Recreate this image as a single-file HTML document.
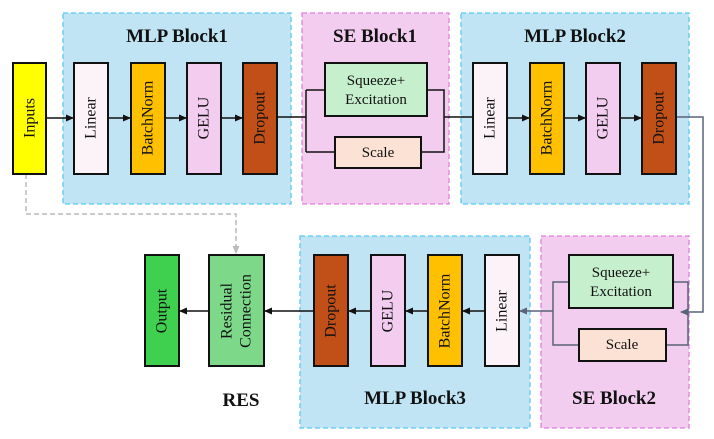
<!DOCTYPE html>
<html><head><meta charset="utf-8"><style>
html,body{margin:0;padding:0;background:#fff;}
svg{display:block;}
text{font-family:"Liberation Serif",serif;fill:#111;}
.t{font-size:19px;font-weight:bold;text-anchor:middle;}
.l{font-size:16px;text-anchor:middle;dominant-baseline:central;}
.s{font-size:15px;text-anchor:middle;dominant-baseline:central;}
.b{stroke:#111;stroke-width:2;}
</style></head><body>
<svg width="714" height="439" viewBox="0 0 714 439" xmlns="http://www.w3.org/2000/svg">
<defs>
<marker id="a" markerWidth="8" markerHeight="8" refX="7" refY="4" orient="auto" markerUnits="userSpaceOnUse"><path d="M0,0.5 L8,4 L0,7.5 Z" fill="#111"/></marker>
<marker id="ag" markerWidth="8" markerHeight="8" refX="7" refY="4" orient="auto" markerUnits="userSpaceOnUse"><path d="M0,0.5 L8,4 L0,7.5 Z" fill="#bbb"/></marker>
<marker id="as" markerWidth="8" markerHeight="8" refX="7" refY="4" orient="auto" markerUnits="userSpaceOnUse"><path d="M0,0.5 L8,4 L0,7.5 Z" fill="#5a6478"/></marker>
</defs>
<rect x="63" y="13" width="228" height="191" fill="#c0e4f4" stroke="#5bc8f0" stroke-width="1.3" stroke-dasharray="5,3"/>
<rect x="302" y="13" width="147" height="191" fill="#f2cdf0" stroke="#e07de0" stroke-width="1.3" stroke-dasharray="5,3"/>
<rect x="461" y="13" width="228" height="191" fill="#c0e4f4" stroke="#5bc8f0" stroke-width="1.3" stroke-dasharray="5,3"/>
<rect x="300" y="236" width="230" height="192" fill="#c0e4f4" stroke="#5bc8f0" stroke-width="1.3" stroke-dasharray="5,3"/>
<rect x="541" y="236" width="148" height="192" fill="#f2cdf0" stroke="#e07de0" stroke-width="1.3" stroke-dasharray="5,3"/>
<text class="t" x="177" y="42">MLP Block1</text>
<text class="t" x="375" y="42">SE Block1</text>
<text class="t" x="575" y="42">MLP Block2</text>
<text class="t" x="415" y="404">MLP Block3</text>
<text class="t" x="614" y="404">SE Block2</text>
<text class="t" x="241" y="406">RES</text>

<path d="M26,174 V214 H236 V253" fill="none" stroke="#bbb" stroke-width="1.5" stroke-dasharray="5,3" marker-end="url(#ag)"/>

<g stroke="#111" stroke-width="1.5" fill="none">
<path d="M46,118 H73" marker-end="url(#a)"/>
<path d="M108,118 H130" marker-end="url(#a)"/>
<path d="M165,118 H186" marker-end="url(#a)"/>
<path d="M221,118 H242" marker-end="url(#a)"/>
<path d="M277,117 H306 M306,90 V152 M306,90 H325 M306,152 H335 M427,90 H444 V152 H421 M444,117 H473"/>
<path d="M507,118 H529" marker-end="url(#a)"/>
<path d="M564,118 H585" marker-end="url(#a)"/>
<path d="M620,118 H641" marker-end="url(#a)"/>
</g>
<path d="M676,117 H703 V312 H681" fill="none" stroke="#5a6478" stroke-width="1.5" marker-end="url(#as)"/>
<path d="M569,282 H553 V345 H579 M673,282 H688 V345 H666 M553,311 H520" fill="none" stroke="#5a6478" stroke-width="1.5" marker-end="url(#as)"/>
<g stroke="#111" stroke-width="1.5" fill="none">
<path d="M485,311 H463" marker-end="url(#a)"/>
<path d="M428,311 H406" marker-end="url(#a)"/>
<path d="M371,311 H349" marker-end="url(#a)"/>
<path d="M314,311 H265" marker-end="url(#a)"/>
<path d="M209,311 H180" marker-end="url(#a)"/>
</g>

<g class="b">
<rect x="13" y="63" width="33" height="111" fill="#ffff00"/>
<rect x="74" y="63" width="34" height="111" fill="#fbf3f8"/>
<rect x="131" y="63" width="34" height="111" fill="#ffc000"/>
<rect x="187" y="63" width="34" height="111" fill="#f2cdf0"/>
<rect x="243" y="63" width="34" height="111" fill="#c05018"/>
<rect x="325" y="63" width="102" height="53" fill="#c6efcd"/>
<rect x="335" y="137" width="86" height="31" fill="#fbe2d5"/>
<rect x="473" y="63" width="34" height="111" fill="#fbf3f8"/>
<rect x="530" y="63" width="34" height="111" fill="#ffc000"/>
<rect x="586" y="63" width="34" height="111" fill="#f2cdf0"/>
<rect x="642" y="63" width="34" height="111" fill="#c05018"/>
<rect x="145" y="255" width="34" height="111" fill="#3fd050"/>
<rect x="209" y="255" width="55" height="111" fill="#7dd88a"/>
<rect x="314" y="255" width="34" height="111" fill="#c05018"/>
<rect x="371" y="255" width="34" height="111" fill="#f2cdf0"/>
<rect x="428" y="255" width="34" height="111" fill="#ffc000"/>
<rect x="485" y="255" width="34" height="111" fill="#fbf3f8"/>
<rect x="569" y="255" width="104" height="53" fill="#c6efcd"/>
<rect x="579" y="329" width="87" height="32" fill="#fbe2d5"/>
</g>

<g class="l">
<text transform="translate(30,118) rotate(-90)">Inputs</text>
<text transform="translate(91,118) rotate(-90)">Linear</text>
<text transform="translate(148,118) rotate(-90)">BatchNorm</text>
<text transform="translate(204,118) rotate(-90)">GELU</text>
<text transform="translate(260,118) rotate(-90)">Dropout</text>
<text transform="translate(490,118) rotate(-90)">Linear</text>
<text transform="translate(547,118) rotate(-90)">BatchNorm</text>
<text transform="translate(603,118) rotate(-90)">GELU</text>
<text transform="translate(659,118) rotate(-90)">Dropout</text>
<text transform="translate(162,311) rotate(-90)">Output</text>
<text transform="translate(227,311) rotate(-90)">Residual</text>
<text transform="translate(246,311) rotate(-90)">Connection</text>
<text transform="translate(331,311) rotate(-90)">Dropout</text>
<text transform="translate(388,311) rotate(-90)">GELU</text>
<text transform="translate(445,311) rotate(-90)">BatchNorm</text>
<text transform="translate(502,311) rotate(-90)">Linear</text>
</g>
<g class="s">
<text x="376" y="81">Squeeze+</text>
<text x="376" y="100">Excitation</text>
<text x="378" y="153">Scale</text>
<text x="621" y="273">Squeeze+</text>
<text x="621" y="292">Excitation</text>
<text x="622" y="345">Scale</text>
</g>
</svg>
</body></html>
